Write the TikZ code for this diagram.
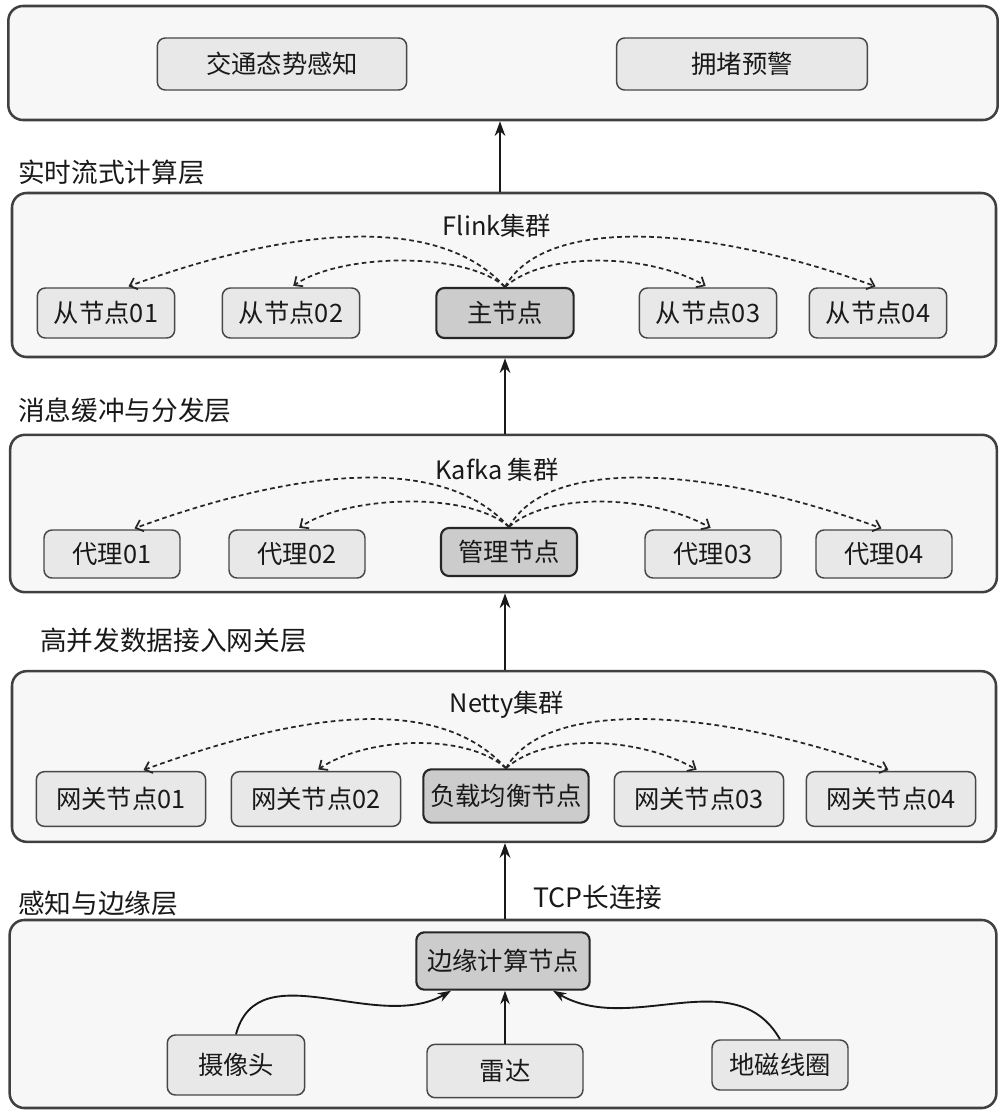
\documentclass[tikz,border=0pt]{standalone}
\usepackage{fontspec}
\setmainfont{Noto Sans CJK SC}
\usetikzlibrary{arrows.meta}
\newcommand\nodefont{\fontsize{19}{23}\selectfont}
\newcommand\layerfont{\fontsize{20}{24}\selectfont}
\tikzset{layer/.style={draw=black!75, line width=1.9pt, fill=black!3, rounded corners=11pt, minimum width=#1, inner sep=0pt},
%default width of a layer box
layer/.default={739pt},
box/.style={draw=black!72, line width=1.1pt, fill=black!9, rounded corners=6pt, minimum width=#1, font=\nodefont, text=black!90},
box/.default={103pt},
master/.style={box=#1, fill=black!20, draw=black!85, line width=1.6pt},
master/.default={103pt},
layertext/.style={anchor=west, inner sep=0pt, font=\layerfont, text=black!90},
uplink/.style={line width=1.5pt, draw=black!90, -{Stealth[length=11pt,width=8pt]}},
feed/.style={line width=1.4pt, draw=black!90, -{Stealth[length=10pt,width=7pt]}},
spread/.style={line width=1.3pt, draw=black!85, dash pattern=on 3.5pt off 2.5pt, shorten >=2pt, -{Straight Barb[length=5pt,width=9pt]}}}

\begin{document}
\begin{tikzpicture}[x=0.75pt,y=0.75pt]
\useasboundingbox (0,0) rectangle (1002,-1113);

% layers
\node[layer=742pt, minimum height=85.5pt] (appl) at (503,-63) {};
\node[layer=738pt, minimum height=123pt] (flink) at (504,-275) {};
\node[layer=740pt, minimum height=118pt] (kafka) at (503.5,-513.5) {};
\node[layer=738pt, minimum height=128pt] (netty) at (504,-756.5) {};
\node[layer=740pt, minimum height=141pt] (edge) at (503,-1014) {};

%layer labels
\node[layertext] (lflink) at (18,-172) {实时流式计算层};
\node[layertext] (lkafka) at (18,-410) {消息缓冲与分发层};
\node[layertext] (lnetty) at (40,-640) {高并发数据接入网关层};
\node[layertext] (ledge) at (18,-903) {感知与边缘层};

% application
\node[box=187pt, minimum height=39pt] (traffic) at (282,-64) {交通态势感知};
\node[box=188pt, minimum height=39pt] (jam) at (742,-64) {拥堵预警};

% Flink
\node[font=\nodefont, text=black!90] (ftitle) at (497,-226) {Flink集群};
\node[master, minimum height=37.5pt] (fm) at (505,-313) {主节点};
\foreach \n/\x/\t in {f1/106/从节点01, f2/291/从节点02, f3/708/从节点03, f4/878/从节点04}
     \node[box, minimum height=37.5pt] (\n) at (\x,-313) {\t};

% Kafka
\node[font=\nodefont, text=black!90] (ktitle) at (497,-470) {Kafka 集群};
\node[master=102pt, minimum height=36pt] (km) at (509,-552) {管理节点};
\foreach \n/\x/\t in {k1/112/代理01, k2/297/代理02, k3/713/代理03, k4/884/代理04}
     \node[box=102pt, minimum height=36pt] (\n) at (\x,-554) {\t};

% Netty
\node[font=\nodefont, text=black!90] (ntitle) at (507,-705) {Netty集群};
\node[master=124pt, minimum height=40pt] (nm) at (506,-796) {负载均衡节点};
\foreach \n/\x/\t in {n1/121/网关节点01, n2/316/网关节点02, n3/699/网关节点03, n4/891/网关节点04}
     \node[box=127pt, minimum height=41pt] (\n) at (\x,-799) {\t};

% edge
\node[master=130pt, minimum height=43pt] (ecn) at (503,-961) {边缘计算节点};
\node[box=103pt, minimum height=45pt] (cam) at (236,-1065) {摄像头};
\node[box=117pt, minimum height=40pt] (radar) at (505,-1071) {雷达};
\node[box=102pt, minimum height=37.5pt] (coil) at (780,-1065) {地磁线圈};

%dispatch inside the clusters
\foreach \m/\a/\b/\c/\d in {fm/f1/f2/f3/f4, km/k1/k2/k3/k4, nm/n1/n2/n3/n4}{
     \draw[spread] (\m.north) .. controls +(-65,72) and +(170,62) .. ([xshift=15pt]\a.north);
     \draw[spread] (\m.north) .. controls +(-40,36) and +(50,34) .. (\b.north);
     \draw[spread] (\m.north) .. controls +(40,36) and +(-60,34) .. (\c.north);
     \draw[spread] (\m.north) .. controls +(40,72) and +(-170,62) .. (\d.north);
}

% between layers
\draw[uplink] (flink.north -| appl.south) ++(-3,0) coordinate (fup) -- (fup |- appl.south);
\draw[uplink] (kafka.north -| fm.south) -- (fm.south |- flink.south);
\draw[uplink] (netty.north -| fm.south) -- (fm.south |- kafka.south);
\draw[uplink] (edge.north -| fm.south) -- (fm.south |- netty.south);
\node[layertext] (tcp) at (533,-897) {TCP长连接};

% sensors
\draw[feed] (cam.north) to[out=75, in=210] ([xshift=-39pt]ecn.south);
\draw[feed] (radar.north) -- (radar.north |- ecn.south);
\draw[feed] (coil.north) to[out=120, in=-30] ([xshift=37.5pt]ecn.south);

\end{tikzpicture}
\end{document}
